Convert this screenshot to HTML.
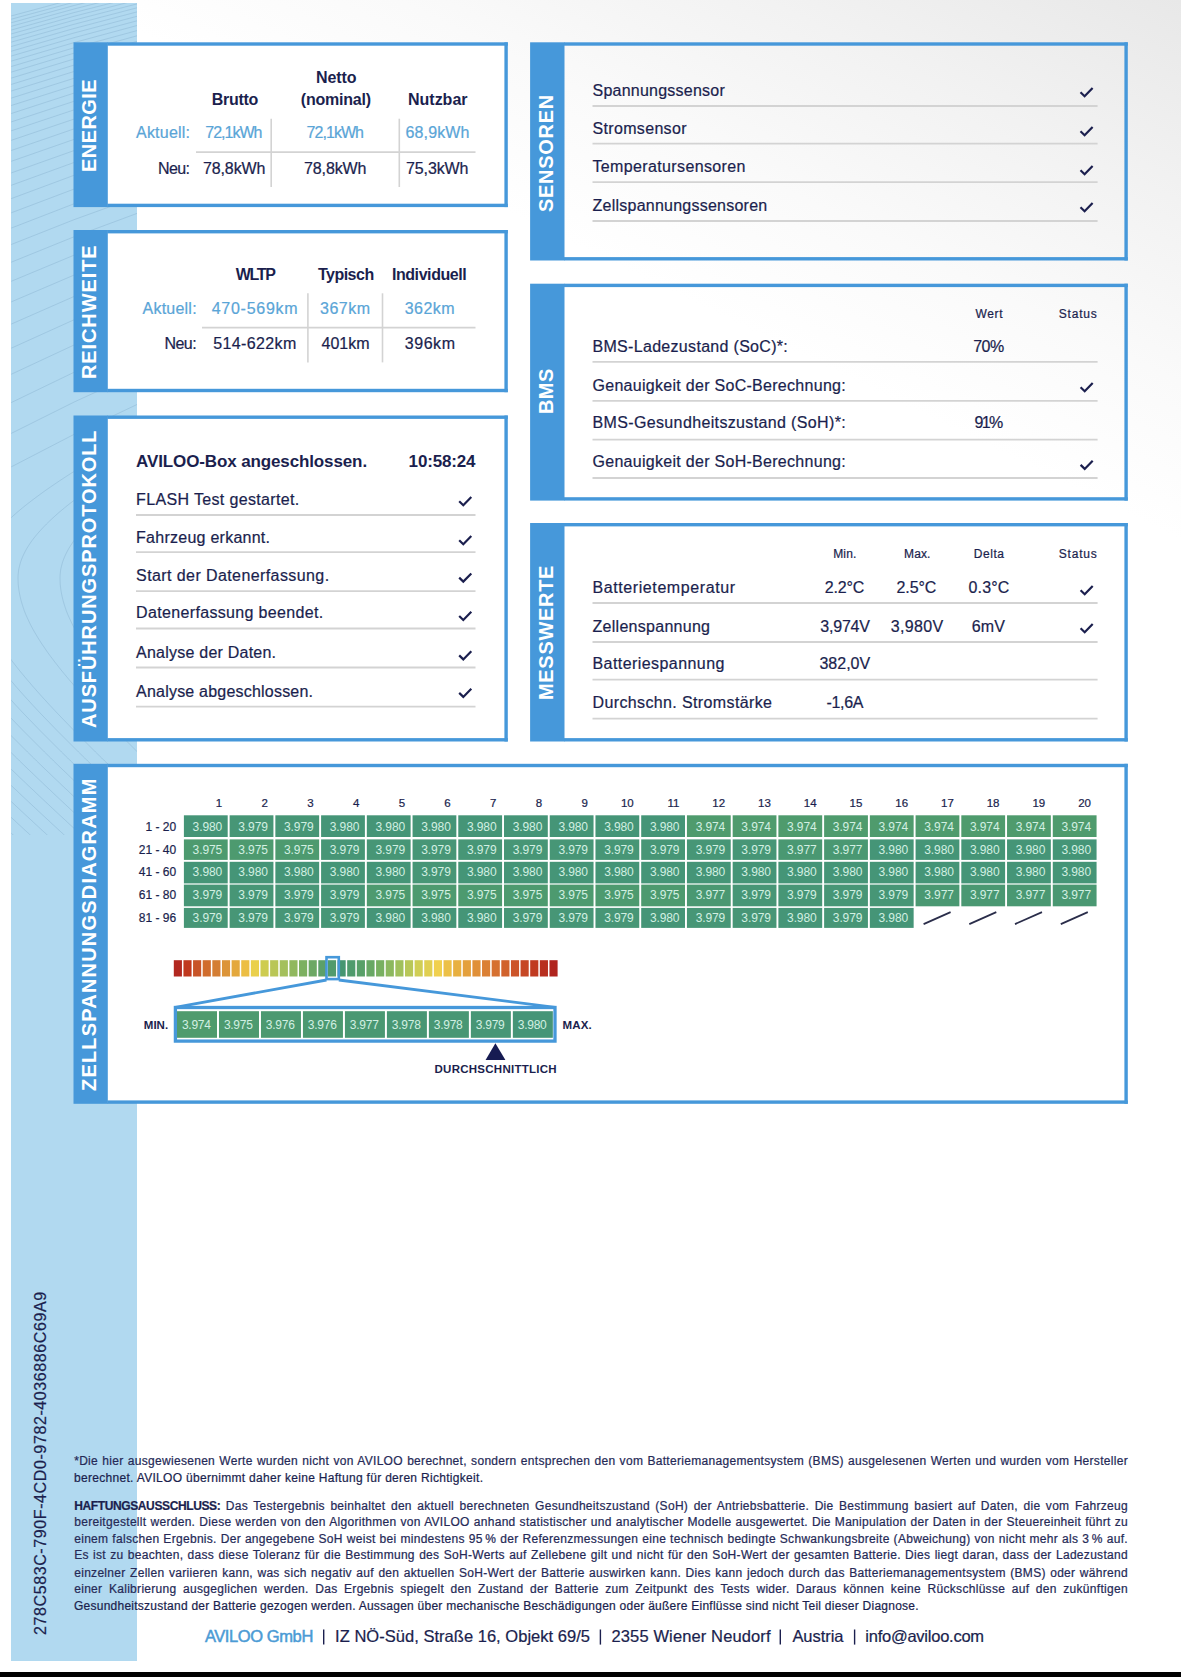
<!DOCTYPE html>
<html lang="de"><head><meta charset="utf-8"><title>AVILOO Batteriezertifikat</title>
<style>
html,body{margin:0;padding:0;}
body{width:1181px;height:1677px;position:relative;overflow:hidden;background:#fff;font-family:"Liberation Sans",sans-serif;color:#1b1f4e;}
#bg{position:absolute;left:0;top:0;width:1181px;height:1677px;background:linear-gradient(206deg,#e8e8e8 0%,#f2f2f2 9%,#fafafa 17%,#ffffff 24%);}
.t{position:absolute;white-space:nowrap;-webkit-text-stroke:0.22px;}
.r{position:absolute;}
.ov{position:absolute;left:0;top:0;}
.j{-webkit-text-stroke:0.22px;color:#262a57;position:absolute;left:74.2px;width:1053.8px;letter-spacing:0.3px;font-size:12px;line-height:12px;height:12px;text-align:justify;text-align-last:justify;white-space:nowrap;overflow:visible;}
</style></head><body>
<div id="bg"></div>
<div class="r" style="left:11.20px;top:3.00px;width:125.80px;height:1657.50px;background:#b1d9f0;"></div>
<svg class="ov" width="1181" height="1677" viewBox="0 0 1181 1677"><defs><clipPath id="bc"><rect x="11.2" y="3" width="125.8" height="832"/></clipPath></defs><path clip-path="url(#bc)" d="M137.4,485.0 L133.0,488.0 L128.7,491.0 L124.6,494.0 L120.5,497.0 L116.5,500.0 L112.6,503.0 L108.8,506.0 L105.1,509.0 L101.5,512.0 L98.1,515.0 L94.8,518.0 L91.6,521.0 L88.5,524.0 L85.6,527.0 L82.8,530.0 L80.1,533.0 L77.6,536.0 L75.2,539.0 L73.0,542.0 L71.0,545.0 L69.1,548.0 L67.4,551.0 L65.9,554.0 L64.5,557.0 L63.3,560.0 L62.3,563.0 L61.5,566.0 L60.8,569.0 L60.4,572.0 L60.1,575.0 L60.0,578.0 L60.1,581.0 L60.2,584.0 L60.5,587.0 L60.9,590.0 L61.4,593.0 L62.0,596.0 L62.7,599.0 L63.5,602.0 L64.4,605.0 L65.4,608.0 L66.4,611.0 L67.6,614.0 L68.9,617.0 L70.3,620.0 L71.7,623.0 L73.2,626.0 L74.8,629.0 L76.5,632.0 L78.3,635.0 L80.1,638.0 L82.0,641.0 L83.9,644.0 L86.0,647.0 L88.0,650.0 L90.1,653.0 L92.3,656.0 L94.6,659.0 L96.8,662.0 L99.2,665.0 L101.5,668.0 L103.9,671.0 L106.4,674.0 L108.9,677.0 L111.4,680.0 L114.0,683.0 L116.5,686.0 L119.2,689.0 L121.8,692.0 L124.5,695.0 L127.2,698.0 L130.0,701.0 L132.7,704.0 L135.5,707.0 L138.3,710.0 M138.0,458.0 L133.0,461.0 L128.0,464.0 L123.2,467.0 L118.4,470.0 L113.6,473.0 L108.9,476.0 L104.3,479.0 L99.8,482.0 L95.4,485.0 L91.0,488.0 L86.7,491.0 L82.6,494.0 L78.5,497.0 L74.5,500.0 L70.6,503.0 L66.8,506.0 L63.1,509.0 L59.5,512.0 L56.1,515.0 L52.8,518.0 L49.6,521.0 L46.5,524.0 L43.6,527.0 L40.8,530.0 L38.1,533.0 L35.6,536.0 L33.2,539.0 L31.0,542.0 L29.0,545.0 L27.1,548.0 L25.4,551.0 L23.9,554.0 L22.5,557.0 L21.3,560.0 L20.3,563.0 L19.5,566.0 L18.8,569.0 L18.4,572.0 L18.1,575.0 L18.0,578.0 L18.1,581.0 L18.2,584.0 L18.5,587.0 L18.9,590.0 L19.4,593.0 L20.0,596.0 L20.7,599.0 L21.5,602.0 L22.4,605.0 L23.4,608.0 L24.4,611.0 L25.6,614.0 L26.9,617.0 L28.3,620.0 L29.7,623.0 L31.2,626.0 L32.8,629.0 L34.5,632.0 L36.3,635.0 L38.1,638.0 L40.0,641.0 L41.9,644.0 L44.0,647.0 L46.0,650.0 L48.1,653.0 L50.3,656.0 L52.6,659.0 L54.8,662.0 L57.2,665.0 L59.5,668.0 L61.9,671.0 L64.4,674.0 L66.9,677.0 L69.4,680.0 L72.0,683.0 L74.5,686.0 L77.2,689.0 L79.8,692.0 L82.5,695.0 L85.2,698.0 L88.0,701.0 L90.7,704.0 L93.5,707.0 L96.3,710.0 L99.1,713.0 L102.0,716.0 L104.9,719.0 L107.8,722.0 L110.7,725.0 L113.6,728.0 L116.5,731.0 L119.5,734.0 L122.5,737.0 L125.5,740.0 L128.5,743.0 L131.5,746.0 L134.5,749.0 L137.5,752.0 M137.8,434.0 L132.4,437.0 L127.1,440.0 L121.8,443.0 L116.5,446.0 L111.3,449.0 L106.1,452.0 L101.0,455.0 L96.0,458.0 L91.0,461.0 L86.0,464.0 L81.2,467.0 L76.4,470.0 L71.6,473.0 L66.9,476.0 L62.3,479.0 L57.8,482.0 L53.4,485.0 L49.0,488.0 L44.7,491.0 L40.6,494.0 L36.5,497.0 L32.5,500.0 L28.6,503.0 L24.8,506.0 L21.1,509.0 L17.5,512.0 L14.1,515.0 L10.8,518.0 M8.3,656.0 L10.6,659.0 L12.8,662.0 L15.2,665.0 L17.5,668.0 L19.9,671.0 L22.4,674.0 L24.9,677.0 L27.4,680.0 L30.0,683.0 L32.5,686.0 L35.2,689.0 L37.8,692.0 L40.5,695.0 L43.2,698.0 L46.0,701.0 L48.7,704.0 L51.5,707.0 L54.3,710.0 L57.1,713.0 L60.0,716.0 L62.9,719.0 L65.8,722.0 L68.7,725.0 L71.6,728.0 L74.5,731.0 L77.5,734.0 L80.5,737.0 L83.5,740.0 L86.5,743.0 L89.5,746.0 L92.5,749.0 L95.5,752.0 L98.6,755.0 L101.7,758.0 L104.7,761.0 L107.8,764.0 L110.9,767.0 L114.0,770.0 L117.2,773.0 L120.3,776.0 L123.4,779.0 L126.6,782.0 L129.7,785.0 L132.9,788.0 L136.1,791.0 L139.2,794.0 M11.0,16.0 L74.0,-1.0 L137.0,-16.7 M11.0,19.3 L74.0,2.2 L137.0,-13.6 M11.0,22.8 L74.0,5.5 L137.0,-10.3 M11.0,26.4 L74.0,9.0 L137.0,-7.0 M11.0,30.1 L74.0,12.6 L137.0,-3.5 M11.0,34.0 L74.0,16.3 L137.0,0.1 M11.0,38.0 L74.0,20.2 L137.0,3.9 M11.0,42.2 L74.0,24.3 L137.0,7.8 M11.0,46.6 L74.0,28.5 L137.0,11.9 M11.0,51.3 L74.0,33.0 L137.0,16.3 M11.0,56.1 L74.0,37.7 L137.0,20.8 M11.0,61.2 L74.0,42.6 L137.0,25.5 M11.0,66.6 L74.0,47.8 L137.0,30.6 M11.0,72.2 L74.0,53.2 L137.0,35.8 M11.0,78.2 L74.0,59.0 L137.0,41.4 M11.0,84.5 L74.0,65.1 L137.0,47.3 M11.0,91.1 L74.0,71.5 L137.0,53.5 M11.0,98.2 L74.0,78.3 L137.0,60.1 M11.0,105.6 L74.0,85.5 L137.0,67.0 M11.0,113.6 L74.0,93.1 L137.0,74.4 M11.0,122.0 L74.0,101.3 L137.0,82.3 M11.0,130.9 L74.0,109.9 L137.0,90.6 M11.0,140.4 L74.0,119.1 L137.0,99.5 M11.0,150.6 L74.0,128.9 L137.0,109.0 M11.0,161.4 L74.0,139.4 L137.0,119.1 M11.0,173.0 L74.0,150.6 L137.0,130.0 M11.0,185.4 L74.0,162.5 L137.0,141.5 M11.0,198.7 L74.0,175.3 L137.0,153.9 M11.0,212.9 L74.0,189.1 L137.0,167.2 M11.0,228.2 L74.0,203.8 L137.0,181.5 M11.0,244.6 L74.0,219.7 L137.0,196.9 M11.0,262.3 L74.0,236.8 L137.0,213.4 M11.0,281.4 L74.0,255.2 L137.0,231.2 M11.0,302.0 L74.0,275.1 L137.0,250.4 M11.0,324.2 L74.0,296.5 L137.0,271.2 M11.0,348.3 L74.0,319.8 L137.0,293.7 M11.0,374.4 L74.0,345.0 L137.0,318.0 M11.0,402.7 L74.0,372.3 L137.0,344.5 M11.0,433.5 L74.0,402.1 L137.0,373.2 M11.0,467.0 L74.0,434.4 L137.0,404.5 M10.4,680.0 L13.0,683.0 L15.5,686.0 L18.2,689.0 L20.8,692.0 L23.5,695.0 L26.2,698.0 L29.0,701.0 L31.7,704.0 L34.5,707.0 L37.3,710.0 L40.1,713.0 L43.0,716.0 L45.9,719.0 L48.8,722.0 L51.7,725.0 L54.6,728.0 L57.5,731.0 L60.5,734.0 L63.5,737.0 L66.5,740.0 L69.5,743.0 L72.5,746.0 L75.5,749.0 L78.5,752.0 L81.6,755.0 L84.7,758.0 L87.7,761.0 L90.8,764.0 L93.9,767.0 L97.0,770.0 L100.2,773.0 L103.3,776.0 L106.4,779.0 L109.6,782.0 L112.7,785.0 L115.9,788.0 L119.1,791.0 L122.2,794.0 L125.4,797.0 L128.6,800.0 L131.8,803.0 L135.0,806.0 L138.2,809.0 M9.2,698.0 L12.0,701.0 L14.7,704.0 L17.5,707.0 L20.3,710.0 L23.1,713.0 L26.0,716.0 L28.9,719.0 L31.8,722.0 L34.7,725.0 L37.6,728.0 L40.5,731.0 L43.5,734.0 L46.5,737.0 L49.5,740.0 L52.5,743.0 L55.5,746.0 L58.5,749.0 L61.5,752.0 L64.6,755.0 L67.7,758.0 L70.7,761.0 L73.8,764.0 L76.9,767.0 L80.0,770.0 L83.2,773.0 L86.3,776.0 L89.4,779.0 L92.6,782.0 L95.7,785.0 L98.9,788.0 L102.1,791.0 L105.2,794.0 L108.4,797.0 L111.6,800.0 L114.8,803.0 L118.0,806.0 L121.2,809.0 L124.4,812.0 L127.6,815.0 L130.9,818.0 L134.1,821.0 L137.3,824.0 M9.0,716.0 L11.9,719.0 L14.8,722.0 L17.7,725.0 L20.6,728.0 L23.5,731.0 L26.5,734.0 L29.5,737.0 L32.5,740.0 L35.5,743.0 L38.5,746.0 L41.5,749.0 L44.5,752.0 L47.6,755.0 L50.7,758.0 L53.7,761.0 L56.8,764.0 L59.9,767.0 L63.0,770.0 L66.2,773.0 L69.3,776.0 L72.4,779.0 L75.6,782.0 L78.7,785.0 L81.9,788.0 L85.1,791.0 L88.2,794.0 L91.4,797.0 L94.6,800.0 L97.8,803.0 L101.0,806.0 L104.2,809.0 L107.4,812.0 L110.6,815.0 L113.9,818.0 L117.1,821.0 L120.3,824.0 L123.6,827.0 L126.8,830.0 L130.1,833.0 L133.3,836.0 L136.6,839.0 L139.9,842.0 M9.5,734.0 L12.5,737.0 L15.5,740.0 L18.5,743.0 L21.5,746.0 L24.5,749.0 L27.5,752.0 L30.6,755.0 L33.7,758.0 L36.7,761.0 L39.8,764.0 L42.9,767.0 L46.0,770.0 L49.2,773.0 L52.3,776.0 L55.4,779.0 L58.6,782.0 L61.7,785.0 L64.9,788.0 L68.1,791.0 L71.2,794.0 L74.4,797.0 L77.6,800.0 L80.8,803.0 L84.0,806.0 L87.2,809.0 L90.4,812.0 L93.6,815.0 L96.9,818.0 L100.1,821.0 L103.3,824.0 L106.6,827.0 L109.8,830.0 L113.1,833.0 L116.3,836.0 L119.6,839.0 L122.9,842.0 M10.5,752.0 L13.6,755.0 L16.7,758.0 L19.7,761.0 L22.8,764.0 L25.9,767.0 L29.0,770.0 L32.2,773.0 L35.3,776.0 L38.4,779.0 L41.6,782.0 L44.7,785.0 L47.9,788.0 L51.1,791.0 L54.2,794.0 L57.4,797.0 L60.6,800.0 L63.8,803.0 L67.0,806.0 L70.2,809.0 L73.4,812.0 L76.6,815.0 L79.9,818.0 L83.1,821.0 L86.3,824.0 L89.6,827.0 L92.8,830.0 L96.1,833.0 L99.3,836.0 L102.6,839.0 L105.9,842.0 M8.9,767.0 L12.0,770.0 L15.2,773.0 L18.3,776.0 L21.4,779.0 L24.6,782.0 L27.7,785.0 L30.9,788.0 L34.1,791.0 L37.2,794.0 L40.4,797.0 L43.6,800.0 L46.8,803.0 L50.0,806.0 L53.2,809.0 L56.4,812.0 L59.6,815.0 L62.9,818.0 L66.1,821.0 L69.3,824.0 L72.6,827.0 L75.8,830.0 L79.1,833.0 L82.3,836.0 L85.6,839.0 L88.9,842.0 M10.7,785.0 L13.9,788.0 L17.1,791.0 L20.2,794.0 L23.4,797.0 L26.6,800.0 L29.8,803.0 L33.0,806.0 L36.2,809.0 L39.4,812.0 L42.6,815.0 L45.9,818.0 L49.1,821.0 L52.3,824.0 L55.6,827.0 L58.8,830.0 L62.1,833.0 L65.3,836.0 L68.6,839.0 L71.9,842.0 M9.6,800.0 L12.8,803.0 L16.0,806.0 L19.2,809.0 L22.4,812.0 L25.6,815.0 L28.9,818.0 L32.1,821.0 L35.3,824.0 L38.6,827.0 L41.8,830.0 L45.1,833.0 L48.3,836.0 L51.6,839.0 L54.9,842.0 M8.6,815.0 L11.9,818.0 L15.1,821.0 L18.3,824.0 L21.6,827.0 L24.8,830.0 L28.1,833.0 L31.3,836.0 L34.6,839.0 L37.9,842.0 M11.1,833.0 L14.3,836.0 L17.6,839.0 L20.9,842.0" fill="none" stroke="#7fa8c8" stroke-opacity="0.36" stroke-width="1"/></svg>
<div class="r" style="left:106.80px;top:43.30px;width:400.00px;height:162.80px;background:#fff;"></div>
<div class="r" style="left:106.80px;top:231.00px;width:400.00px;height:160.20px;background:#fff;"></div>
<div class="r" style="left:106.80px;top:416.50px;width:400.00px;height:324.00px;background:#fff;"></div>
<div class="r" style="left:106.80px;top:764.80px;width:1020.00px;height:338.00px;background:#fff;"></div>
<svg class="ov" width="1181" height="1677" viewBox="0 0 1181 1677" fill="#4698da"><rect x="73.50" y="42.30" width="34.30" height="164.80"/><rect x="107.30" y="42.30" width="400.50" height="3.4"/><rect x="107.30" y="203.70" width="400.50" height="3.4"/><rect x="504.40" y="42.30" width="3.4" height="164.80"/><rect x="73.50" y="230.00" width="34.30" height="162.20"/><rect x="107.30" y="230.00" width="400.50" height="3.4"/><rect x="107.30" y="388.80" width="400.50" height="3.4"/><rect x="504.40" y="230.00" width="3.4" height="162.20"/><rect x="73.50" y="415.50" width="34.30" height="326.00"/><rect x="107.30" y="415.50" width="400.50" height="3.4"/><rect x="107.30" y="738.10" width="400.50" height="3.4"/><rect x="504.40" y="415.50" width="3.4" height="326.00"/><rect x="530.10" y="42.30" width="34.40" height="218.20"/><rect x="564.00" y="42.30" width="563.80" height="3.4"/><rect x="564.00" y="257.10" width="563.80" height="3.4"/><rect x="1124.40" y="42.30" width="3.4" height="218.20"/><rect x="530.10" y="283.70" width="34.40" height="216.90"/><rect x="564.00" y="283.70" width="563.80" height="3.4"/><rect x="564.00" y="497.20" width="563.80" height="3.4"/><rect x="1124.40" y="283.70" width="3.4" height="216.90"/><rect x="530.10" y="523.00" width="34.40" height="218.50"/><rect x="564.00" y="523.00" width="563.80" height="3.4"/><rect x="564.00" y="738.10" width="563.80" height="3.4"/><rect x="1124.40" y="523.00" width="3.4" height="218.50"/><rect x="73.50" y="763.80" width="34.30" height="340.00"/><rect x="107.30" y="763.80" width="1020.50" height="3.4"/><rect x="107.30" y="1100.40" width="1020.50" height="3.4"/><rect x="1124.40" y="763.80" width="3.4" height="340.00"/></svg>
<div class="t" style="left:96.00px;top:171.60px;font-size:20px;line-height:20px;letter-spacing:0.430px;color:#fff;transform-origin:0 0;transform:rotate(-90deg) translate(0,-17.00px);font-weight:bold;-webkit-text-stroke:0;">ENERGIE</div>
<div class="t" style="left:96.10px;top:379.20px;font-size:20px;line-height:20px;letter-spacing:0.893px;color:#fff;transform-origin:0 0;transform:rotate(-90deg) translate(0,-17.00px);font-weight:bold;-webkit-text-stroke:0;">REICHWEITE</div>
<div class="t" style="left:96.00px;top:727.50px;font-size:20px;line-height:20px;letter-spacing:0.882px;color:#fff;transform-origin:0 0;transform:rotate(-90deg) translate(0,-17.00px);font-weight:bold;-webkit-text-stroke:0;">AUSFÜHRUNGSPROTOKOLL</div>
<div class="t" style="left:96.00px;top:1091.30px;font-size:20px;line-height:20px;letter-spacing:1.190px;color:#fff;transform-origin:0 0;transform:rotate(-90deg) translate(0,-17.00px);font-weight:bold;-webkit-text-stroke:0;">ZELLSPANNUNGSDIAGRAMM</div>
<div class="t" style="left:552.50px;top:211.50px;font-size:20px;line-height:20px;letter-spacing:0.709px;color:#fff;transform-origin:0 0;transform:rotate(-90deg) translate(0,-17.00px);font-weight:bold;-webkit-text-stroke:0;">SENSOREN</div>
<div class="t" style="left:552.60px;top:414.40px;font-size:20px;line-height:20px;letter-spacing:0.430px;color:#fff;transform-origin:0 0;transform:rotate(-90deg) translate(0,-17.00px);font-weight:bold;-webkit-text-stroke:0;">BMS</div>
<div class="t" style="left:552.60px;top:700.10px;font-size:20px;line-height:20px;letter-spacing:0.687px;color:#fff;transform-origin:0 0;transform:rotate(-90deg) translate(0,-17.00px);font-weight:bold;-webkit-text-stroke:0;">MESSWERTE</div>
<div class="t" style="left:316.00px;top:70.00px;font-size:16px;line-height:16px;letter-spacing:-0.095px;font-weight:bold;-webkit-text-stroke:0;">Netto</div>
<div class="t" style="left:211.70px;top:92.00px;font-size:16px;line-height:16px;letter-spacing:-0.257px;font-weight:bold;-webkit-text-stroke:0;">Brutto</div>
<div class="t" style="left:300.80px;top:92.00px;font-size:16px;line-height:16px;letter-spacing:-0.225px;font-weight:bold;-webkit-text-stroke:0;">(nominal)</div>
<div class="t" style="left:408.00px;top:92.00px;font-size:16px;line-height:16px;letter-spacing:-0.009px;font-weight:bold;-webkit-text-stroke:0;">Nutzbar</div>
<div class="t" style="left:136.00px;top:125.00px;font-size:16px;line-height:16px;letter-spacing:0.219px;color:#5aa5d7;">Aktuell:</div>
<div class="t" style="left:205.30px;top:125.00px;font-size:16px;line-height:16px;letter-spacing:-0.989px;color:#5aa5d7;">72,1kWh</div>
<div class="t" style="left:306.50px;top:125.00px;font-size:16px;line-height:16px;letter-spacing:-0.939px;color:#5aa5d7;">72,1kWh</div>
<div class="t" style="left:405.50px;top:125.00px;font-size:16px;line-height:16px;letter-spacing:0.144px;color:#5aa5d7;">68,9kWh</div>
<div class="t" style="left:158.00px;top:161.00px;font-size:16px;line-height:16px;letter-spacing:-0.597px;">Neu:</div>
<div class="t" style="left:203.00px;top:161.00px;font-size:16px;line-height:16px;letter-spacing:-0.123px;">78,8kWh</div>
<div class="t" style="left:304.00px;top:161.00px;font-size:16px;line-height:16px;letter-spacing:-0.106px;">78,8kWh</div>
<div class="t" style="left:406.00px;top:161.00px;font-size:16px;line-height:16px;letter-spacing:-0.106px;">75,3kWh</div>
<div class="t" style="left:235.80px;top:267.00px;font-size:16px;line-height:16px;letter-spacing:-1.309px;font-weight:bold;-webkit-text-stroke:0;">WLTP</div>
<div class="t" style="left:317.90px;top:267.00px;font-size:16px;line-height:16px;letter-spacing:-0.497px;font-weight:bold;-webkit-text-stroke:0;">Typisch</div>
<div class="t" style="left:391.90px;top:267.00px;font-size:16px;line-height:16px;letter-spacing:-0.422px;font-weight:bold;-webkit-text-stroke:0;">Individuell</div>
<div class="t" style="left:142.50px;top:301.00px;font-size:16px;line-height:16px;letter-spacing:0.234px;color:#5aa5d7;">Aktuell:</div>
<div class="t" style="left:211.70px;top:301.00px;font-size:16px;line-height:16px;letter-spacing:0.732px;color:#5aa5d7;">470-569km</div>
<div class="t" style="left:320.00px;top:301.00px;font-size:16px;line-height:16px;letter-spacing:0.496px;color:#5aa5d7;">367km</div>
<div class="t" style="left:404.70px;top:301.00px;font-size:16px;line-height:16px;letter-spacing:0.471px;color:#5aa5d7;">362km</div>
<div class="t" style="left:164.40px;top:336.00px;font-size:16px;line-height:16px;letter-spacing:-0.531px;">Neu:</div>
<div class="t" style="left:213.30px;top:336.00px;font-size:16px;line-height:16px;letter-spacing:0.369px;">514-622km</div>
<div class="t" style="left:321.50px;top:336.00px;font-size:16px;line-height:16px;">401km</div>
<div class="t" style="left:404.70px;top:336.00px;font-size:16px;line-height:16px;letter-spacing:0.571px;">396km</div>
<div class="t" style="left:136.10px;top:453.00px;font-size:17px;line-height:17px;letter-spacing:-0.123px;font-weight:bold;-webkit-text-stroke:0;">AVILOO-Box angeschlossen.</div>
<div class="t" style="left:408.60px;top:453.00px;font-size:17px;line-height:17px;letter-spacing:-0.164px;font-weight:bold;-webkit-text-stroke:0;">10:58:24</div>
<div class="t" style="left:136.10px;top:492.00px;font-size:16px;line-height:16px;letter-spacing:0.344px;">FLASH Test gestartet.</div>
<div class="t" style="left:136.10px;top:530.00px;font-size:16px;line-height:16px;letter-spacing:0.253px;">Fahrzeug erkannt.</div>
<div class="t" style="left:136.10px;top:568.00px;font-size:16px;line-height:16px;letter-spacing:0.408px;">Start der Datenerfassung.</div>
<div class="t" style="left:136.10px;top:605.00px;font-size:16px;line-height:16px;letter-spacing:0.341px;">Datenerfassung beendet.</div>
<div class="t" style="left:136.10px;top:645.00px;font-size:16px;line-height:16px;letter-spacing:0.225px;">Analyse der Daten.</div>
<div class="t" style="left:136.10px;top:684.00px;font-size:16px;line-height:16px;letter-spacing:0.207px;">Analyse abgeschlossen.</div>
<div class="t" style="left:592.50px;top:83.00px;font-size:16px;line-height:16px;letter-spacing:0.236px;">Spannungssensor</div>
<div class="t" style="left:592.50px;top:121.00px;font-size:16px;line-height:16px;letter-spacing:0.330px;">Stromsensor</div>
<div class="t" style="left:592.50px;top:159.00px;font-size:16px;line-height:16px;letter-spacing:0.363px;">Temperatursensoren</div>
<div class="t" style="left:592.50px;top:198.00px;font-size:16px;line-height:16px;letter-spacing:0.241px;">Zellspannungssensoren</div>
<div class="t" style="left:975.40px;top:308.00px;font-size:12px;line-height:12px;letter-spacing:0.661px;">Wert</div>
<div class="t" style="left:1058.70px;top:308.00px;font-size:12px;line-height:12px;letter-spacing:0.816px;">Status</div>
<div class="t" style="left:592.50px;top:339.00px;font-size:16px;line-height:16px;letter-spacing:0.308px;">BMS-Ladezustand (SoC)*:</div>
<div class="t" style="left:973.20px;top:339.00px;font-size:16px;line-height:16px;letter-spacing:-0.508px;">70%</div>
<div class="t" style="left:592.50px;top:378.00px;font-size:16px;line-height:16px;letter-spacing:0.287px;">Genauigkeit der SoC-Berechnung:</div>
<div class="t" style="left:592.50px;top:415.00px;font-size:16px;line-height:16px;letter-spacing:0.360px;">BMS-Gesundheitszustand (SoH)*:</div>
<div class="t" style="left:974.40px;top:415.00px;font-size:16px;line-height:16px;letter-spacing:-1.608px;">91%</div>
<div class="t" style="left:592.50px;top:454.00px;font-size:16px;line-height:16px;letter-spacing:0.287px;">Genauigkeit der SoH-Berechnung:</div>
<div class="t" style="left:833.20px;top:548.00px;font-size:12px;line-height:12px;letter-spacing:0.177px;">Min.</div>
<div class="t" style="left:904.00px;top:548.00px;font-size:12px;line-height:12px;letter-spacing:0.132px;">Max.</div>
<div class="t" style="left:973.70px;top:548.00px;font-size:12px;line-height:12px;letter-spacing:0.570px;">Delta</div>
<div class="t" style="left:1058.70px;top:548.00px;font-size:12px;line-height:12px;letter-spacing:0.816px;">Status</div>
<div class="t" style="left:592.50px;top:580.00px;font-size:16px;line-height:16px;letter-spacing:0.588px;">Batterietemperatur</div>
<div class="t" style="left:824.80px;top:580.00px;font-size:16px;line-height:16px;letter-spacing:-0.148px;">2.2°C</div>
<div class="t" style="left:896.60px;top:580.00px;font-size:16px;line-height:16px;letter-spacing:-0.148px;">2.5°C</div>
<div class="t" style="left:968.60px;top:580.00px;font-size:16px;line-height:16px;letter-spacing:0.127px;">0.3°C</div>
<div class="t" style="left:592.50px;top:619.00px;font-size:16px;line-height:16px;letter-spacing:0.279px;">Zellenspannung</div>
<div class="t" style="left:820.30px;top:619.00px;font-size:16px;line-height:16px;letter-spacing:-0.221px;">3,974V</div>
<div class="t" style="left:890.80px;top:619.00px;font-size:16px;line-height:16px;letter-spacing:0.339px;">3,980V</div>
<div class="t" style="left:971.80px;top:619.00px;font-size:16px;line-height:16px;letter-spacing:0.152px;">6mV</div>
<div class="t" style="left:592.50px;top:656.00px;font-size:16px;line-height:16px;letter-spacing:0.432px;">Batteriespannung</div>
<div class="t" style="left:819.40px;top:656.00px;font-size:16px;line-height:16px;letter-spacing:0.019px;">382,0V</div>
<div class="t" style="left:592.50px;top:695.00px;font-size:16px;line-height:16px;letter-spacing:0.375px;">Durchschn. Stromstärke</div>
<div class="t" style="left:826.40px;top:695.00px;font-size:16px;line-height:16px;letter-spacing:-0.310px;">-1,6A</div>
<svg class="ov" width="1181" height="1677" viewBox="0 0 1181 1677"><rect x="183.90" y="815.30" width="43.8" height="21.70" fill="#459577"/><rect x="229.63" y="815.30" width="43.8" height="21.70" fill="#479676"/><rect x="275.36" y="815.30" width="43.8" height="21.70" fill="#479676"/><rect x="321.09" y="815.30" width="43.8" height="21.70" fill="#459577"/><rect x="366.82" y="815.30" width="43.8" height="21.70" fill="#459577"/><rect x="412.55" y="815.30" width="43.8" height="21.70" fill="#459577"/><rect x="458.28" y="815.30" width="43.8" height="21.70" fill="#459577"/><rect x="504.01" y="815.30" width="43.8" height="21.70" fill="#459577"/><rect x="549.74" y="815.30" width="43.8" height="21.70" fill="#459577"/><rect x="595.47" y="815.30" width="43.8" height="21.70" fill="#459577"/><rect x="641.20" y="815.30" width="43.8" height="21.70" fill="#459577"/><rect x="686.93" y="815.30" width="43.8" height="21.70" fill="#4f9b6d"/><rect x="732.66" y="815.30" width="43.8" height="21.70" fill="#4f9b6d"/><rect x="778.39" y="815.30" width="43.8" height="21.70" fill="#4f9b6d"/><rect x="824.12" y="815.30" width="43.8" height="21.70" fill="#4f9b6d"/><rect x="869.85" y="815.30" width="43.8" height="21.70" fill="#4f9b6d"/><rect x="915.58" y="815.30" width="43.8" height="21.70" fill="#4f9b6d"/><rect x="961.31" y="815.30" width="43.8" height="21.70" fill="#4f9b6d"/><rect x="1007.04" y="815.30" width="43.8" height="21.70" fill="#4f9b6d"/><rect x="1052.77" y="815.30" width="43.8" height="21.70" fill="#4f9b6d"/><rect x="183.90" y="839.40" width="43.8" height="20.50" fill="#4d9a6f"/><rect x="229.63" y="839.40" width="43.8" height="20.50" fill="#4d9a6f"/><rect x="275.36" y="839.40" width="43.8" height="20.50" fill="#4d9a6f"/><rect x="321.09" y="839.40" width="43.8" height="20.50" fill="#479676"/><rect x="366.82" y="839.40" width="43.8" height="20.50" fill="#479676"/><rect x="412.55" y="839.40" width="43.8" height="20.50" fill="#479676"/><rect x="458.28" y="839.40" width="43.8" height="20.50" fill="#479676"/><rect x="504.01" y="839.40" width="43.8" height="20.50" fill="#479676"/><rect x="549.74" y="839.40" width="43.8" height="20.50" fill="#479676"/><rect x="595.47" y="839.40" width="43.8" height="20.50" fill="#479676"/><rect x="641.20" y="839.40" width="43.8" height="20.50" fill="#479676"/><rect x="686.93" y="839.40" width="43.8" height="20.50" fill="#479676"/><rect x="732.66" y="839.40" width="43.8" height="20.50" fill="#479676"/><rect x="778.39" y="839.40" width="43.8" height="20.50" fill="#4a9872"/><rect x="824.12" y="839.40" width="43.8" height="20.50" fill="#4a9872"/><rect x="869.85" y="839.40" width="43.8" height="20.50" fill="#459577"/><rect x="915.58" y="839.40" width="43.8" height="20.50" fill="#459577"/><rect x="961.31" y="839.40" width="43.8" height="20.50" fill="#459577"/><rect x="1007.04" y="839.40" width="43.8" height="20.50" fill="#459577"/><rect x="1052.77" y="839.40" width="43.8" height="20.50" fill="#459577"/><rect x="183.90" y="861.80" width="43.8" height="21.60" fill="#459577"/><rect x="229.63" y="861.80" width="43.8" height="21.60" fill="#459577"/><rect x="275.36" y="861.80" width="43.8" height="21.60" fill="#459577"/><rect x="321.09" y="861.80" width="43.8" height="21.60" fill="#459577"/><rect x="366.82" y="861.80" width="43.8" height="21.60" fill="#459577"/><rect x="412.55" y="861.80" width="43.8" height="21.60" fill="#479676"/><rect x="458.28" y="861.80" width="43.8" height="21.60" fill="#459577"/><rect x="504.01" y="861.80" width="43.8" height="21.60" fill="#459577"/><rect x="549.74" y="861.80" width="43.8" height="21.60" fill="#459577"/><rect x="595.47" y="861.80" width="43.8" height="21.60" fill="#459577"/><rect x="641.20" y="861.80" width="43.8" height="21.60" fill="#459577"/><rect x="686.93" y="861.80" width="43.8" height="21.60" fill="#459577"/><rect x="732.66" y="861.80" width="43.8" height="21.60" fill="#459577"/><rect x="778.39" y="861.80" width="43.8" height="21.60" fill="#459577"/><rect x="824.12" y="861.80" width="43.8" height="21.60" fill="#459577"/><rect x="869.85" y="861.80" width="43.8" height="21.60" fill="#459577"/><rect x="915.58" y="861.80" width="43.8" height="21.60" fill="#459577"/><rect x="961.31" y="861.80" width="43.8" height="21.60" fill="#459577"/><rect x="1007.04" y="861.80" width="43.8" height="21.60" fill="#459577"/><rect x="1052.77" y="861.80" width="43.8" height="21.60" fill="#459577"/><rect x="183.90" y="884.60" width="43.8" height="21.70" fill="#479676"/><rect x="229.63" y="884.60" width="43.8" height="21.70" fill="#479676"/><rect x="275.36" y="884.60" width="43.8" height="21.70" fill="#479676"/><rect x="321.09" y="884.60" width="43.8" height="21.70" fill="#479676"/><rect x="366.82" y="884.60" width="43.8" height="21.70" fill="#4d9a6f"/><rect x="412.55" y="884.60" width="43.8" height="21.70" fill="#4d9a6f"/><rect x="458.28" y="884.60" width="43.8" height="21.70" fill="#4d9a6f"/><rect x="504.01" y="884.60" width="43.8" height="21.70" fill="#4d9a6f"/><rect x="549.74" y="884.60" width="43.8" height="21.70" fill="#4d9a6f"/><rect x="595.47" y="884.60" width="43.8" height="21.70" fill="#4d9a6f"/><rect x="641.20" y="884.60" width="43.8" height="21.70" fill="#4d9a6f"/><rect x="686.93" y="884.60" width="43.8" height="21.70" fill="#4a9872"/><rect x="732.66" y="884.60" width="43.8" height="21.70" fill="#479676"/><rect x="778.39" y="884.60" width="43.8" height="21.70" fill="#479676"/><rect x="824.12" y="884.60" width="43.8" height="21.70" fill="#479676"/><rect x="869.85" y="884.60" width="43.8" height="21.70" fill="#479676"/><rect x="915.58" y="884.60" width="43.8" height="21.70" fill="#4a9872"/><rect x="961.31" y="884.60" width="43.8" height="21.70" fill="#4a9872"/><rect x="1007.04" y="884.60" width="43.8" height="21.70" fill="#4a9872"/><rect x="1052.77" y="884.60" width="43.8" height="21.70" fill="#4a9872"/><rect x="183.90" y="907.90" width="43.8" height="20.00" fill="#479676"/><rect x="229.63" y="907.90" width="43.8" height="20.00" fill="#479676"/><rect x="275.36" y="907.90" width="43.8" height="20.00" fill="#479676"/><rect x="321.09" y="907.90" width="43.8" height="20.00" fill="#479676"/><rect x="366.82" y="907.90" width="43.8" height="20.00" fill="#459577"/><rect x="412.55" y="907.90" width="43.8" height="20.00" fill="#459577"/><rect x="458.28" y="907.90" width="43.8" height="20.00" fill="#459577"/><rect x="504.01" y="907.90" width="43.8" height="20.00" fill="#479676"/><rect x="549.74" y="907.90" width="43.8" height="20.00" fill="#479676"/><rect x="595.47" y="907.90" width="43.8" height="20.00" fill="#479676"/><rect x="641.20" y="907.90" width="43.8" height="20.00" fill="#459577"/><rect x="686.93" y="907.90" width="43.8" height="20.00" fill="#479676"/><rect x="732.66" y="907.90" width="43.8" height="20.00" fill="#479676"/><rect x="778.39" y="907.90" width="43.8" height="20.00" fill="#459577"/><rect x="824.12" y="907.90" width="43.8" height="20.00" fill="#479676"/><rect x="869.85" y="907.90" width="43.8" height="20.00" fill="#459577"/><rect x="173.80" y="960.2" width="8.13" height="16.3" fill="#b22820"/><rect x="183.43" y="960.2" width="8.13" height="16.3" fill="#c0381e"/><rect x="193.06" y="960.2" width="8.13" height="16.3" fill="#c85428"/><rect x="202.70" y="960.2" width="8.13" height="16.3" fill="#d06c2c"/><rect x="212.33" y="960.2" width="8.13" height="16.3" fill="#d47e34"/><rect x="221.96" y="960.2" width="8.13" height="16.3" fill="#dc9438"/><rect x="231.60" y="960.2" width="8.13" height="16.3" fill="#e4a83c"/><rect x="241.23" y="960.2" width="8.13" height="16.3" fill="#ecbe44"/><rect x="250.86" y="960.2" width="8.13" height="16.3" fill="#ead04c"/><rect x="260.49" y="960.2" width="8.13" height="16.3" fill="#cecc50"/><rect x="270.12" y="960.2" width="8.13" height="16.3" fill="#b9c656"/><rect x="279.76" y="960.2" width="8.13" height="16.3" fill="#a4c05c"/><rect x="289.39" y="960.2" width="8.13" height="16.3" fill="#90b85e"/><rect x="299.02" y="960.2" width="8.13" height="16.3" fill="#7cb060"/><rect x="308.66" y="960.2" width="8.13" height="16.3" fill="#6ca864"/><rect x="318.29" y="960.2" width="8.13" height="16.3" fill="#5ca068"/><rect x="327.92" y="960.2" width="8.13" height="16.3" fill="#519b6c"/><rect x="337.55" y="960.2" width="8.13" height="16.3" fill="#469670"/><rect x="347.19" y="960.2" width="8.13" height="16.3" fill="#4f9b6c"/><rect x="356.82" y="960.2" width="8.13" height="16.3" fill="#58a068"/><rect x="366.45" y="960.2" width="8.13" height="16.3" fill="#68a864"/><rect x="376.08" y="960.2" width="8.13" height="16.3" fill="#78b060"/><rect x="385.72" y="960.2" width="8.13" height="16.3" fill="#8cb85e"/><rect x="395.35" y="960.2" width="8.13" height="16.3" fill="#a0c05c"/><rect x="404.98" y="960.2" width="8.13" height="16.3" fill="#b8c758"/><rect x="414.61" y="960.2" width="8.13" height="16.3" fill="#d0ce54"/><rect x="424.25" y="960.2" width="8.13" height="16.3" fill="#e0cf51"/><rect x="433.88" y="960.2" width="8.13" height="16.3" fill="#f0d04e"/><rect x="443.51" y="960.2" width="8.13" height="16.3" fill="#ecc047"/><rect x="453.14" y="960.2" width="8.13" height="16.3" fill="#e8b040"/><rect x="462.78" y="960.2" width="8.13" height="16.3" fill="#e4a03c"/><rect x="472.41" y="960.2" width="8.13" height="16.3" fill="#e09038"/><rect x="482.04" y="960.2" width="8.13" height="16.3" fill="#db8034"/><rect x="491.67" y="960.2" width="8.13" height="16.3" fill="#d67030"/><rect x="501.31" y="960.2" width="8.13" height="16.3" fill="#d1622c"/><rect x="510.94" y="960.2" width="8.13" height="16.3" fill="#cc5428"/><rect x="520.57" y="960.2" width="8.13" height="16.3" fill="#c64724"/><rect x="530.20" y="960.2" width="8.13" height="16.3" fill="#c03a20"/><rect x="539.84" y="960.2" width="8.13" height="16.3" fill="#b82f1f"/><rect x="549.47" y="960.2" width="8.13" height="16.3" fill="#b0241e"/></svg>
<div class="t" style="left:215.71px;top:798.00px;font-size:11.5px;line-height:11.5px;">1</div>
<div class="t" style="left:261.44px;top:798.00px;font-size:11.5px;line-height:11.5px;">2</div>
<div class="t" style="left:307.17px;top:798.00px;font-size:11.5px;line-height:11.5px;">3</div>
<div class="t" style="left:352.90px;top:798.00px;font-size:11.5px;line-height:11.5px;">4</div>
<div class="t" style="left:398.63px;top:798.00px;font-size:11.5px;line-height:11.5px;">5</div>
<div class="t" style="left:444.36px;top:798.00px;font-size:11.5px;line-height:11.5px;">6</div>
<div class="t" style="left:490.09px;top:798.00px;font-size:11.5px;line-height:11.5px;">7</div>
<div class="t" style="left:535.82px;top:798.00px;font-size:11.5px;line-height:11.5px;">8</div>
<div class="t" style="left:581.55px;top:798.00px;font-size:11.5px;line-height:11.5px;">9</div>
<div class="t" style="left:620.88px;top:798.00px;font-size:11.5px;line-height:11.5px;">10</div>
<div class="t" style="left:667.46px;top:798.00px;font-size:11.5px;line-height:11.5px;">11</div>
<div class="t" style="left:712.34px;top:798.00px;font-size:11.5px;line-height:11.5px;">12</div>
<div class="t" style="left:758.07px;top:798.00px;font-size:11.5px;line-height:11.5px;">13</div>
<div class="t" style="left:803.80px;top:798.00px;font-size:11.5px;line-height:11.5px;">14</div>
<div class="t" style="left:849.53px;top:798.00px;font-size:11.5px;line-height:11.5px;">15</div>
<div class="t" style="left:895.26px;top:798.00px;font-size:11.5px;line-height:11.5px;">16</div>
<div class="t" style="left:940.99px;top:798.00px;font-size:11.5px;line-height:11.5px;">17</div>
<div class="t" style="left:986.72px;top:798.00px;font-size:11.5px;line-height:11.5px;">18</div>
<div class="t" style="left:1032.45px;top:798.00px;font-size:11.5px;line-height:11.5px;">19</div>
<div class="t" style="left:1078.18px;top:798.00px;font-size:11.5px;line-height:11.5px;">20</div>
<div class="t" style="left:145.42px;top:821.00px;font-size:12px;line-height:12px;">1 - 20</div>
<div class="t" style="left:192.60px;top:821.00px;font-size:12px;line-height:12px;letter-spacing:-0.106px;color:#d2f0e2;-webkit-text-stroke:0;">3.980</div>
<div class="t" style="left:238.33px;top:821.00px;font-size:12px;line-height:12px;letter-spacing:-0.106px;color:#d2f0e2;-webkit-text-stroke:0;">3.979</div>
<div class="t" style="left:284.06px;top:821.00px;font-size:12px;line-height:12px;letter-spacing:-0.106px;color:#d2f0e2;-webkit-text-stroke:0;">3.979</div>
<div class="t" style="left:329.79px;top:821.00px;font-size:12px;line-height:12px;letter-spacing:-0.106px;color:#d2f0e2;-webkit-text-stroke:0;">3.980</div>
<div class="t" style="left:375.52px;top:821.00px;font-size:12px;line-height:12px;letter-spacing:-0.106px;color:#d2f0e2;-webkit-text-stroke:0;">3.980</div>
<div class="t" style="left:421.25px;top:821.00px;font-size:12px;line-height:12px;letter-spacing:-0.106px;color:#d2f0e2;-webkit-text-stroke:0;">3.980</div>
<div class="t" style="left:466.98px;top:821.00px;font-size:12px;line-height:12px;letter-spacing:-0.106px;color:#d2f0e2;-webkit-text-stroke:0;">3.980</div>
<div class="t" style="left:512.71px;top:821.00px;font-size:12px;line-height:12px;letter-spacing:-0.106px;color:#d2f0e2;-webkit-text-stroke:0;">3.980</div>
<div class="t" style="left:558.44px;top:821.00px;font-size:12px;line-height:12px;letter-spacing:-0.106px;color:#d2f0e2;-webkit-text-stroke:0;">3.980</div>
<div class="t" style="left:604.17px;top:821.00px;font-size:12px;line-height:12px;letter-spacing:-0.106px;color:#d2f0e2;-webkit-text-stroke:0;">3.980</div>
<div class="t" style="left:649.90px;top:821.00px;font-size:12px;line-height:12px;letter-spacing:-0.106px;color:#d2f0e2;-webkit-text-stroke:0;">3.980</div>
<div class="t" style="left:695.63px;top:821.00px;font-size:12px;line-height:12px;letter-spacing:-0.106px;color:#d2f0e2;-webkit-text-stroke:0;">3.974</div>
<div class="t" style="left:741.36px;top:821.00px;font-size:12px;line-height:12px;letter-spacing:-0.106px;color:#d2f0e2;-webkit-text-stroke:0;">3.974</div>
<div class="t" style="left:787.09px;top:821.00px;font-size:12px;line-height:12px;letter-spacing:-0.106px;color:#d2f0e2;-webkit-text-stroke:0;">3.974</div>
<div class="t" style="left:832.82px;top:821.00px;font-size:12px;line-height:12px;letter-spacing:-0.106px;color:#d2f0e2;-webkit-text-stroke:0;">3.974</div>
<div class="t" style="left:878.55px;top:821.00px;font-size:12px;line-height:12px;letter-spacing:-0.106px;color:#d2f0e2;-webkit-text-stroke:0;">3.974</div>
<div class="t" style="left:924.28px;top:821.00px;font-size:12px;line-height:12px;letter-spacing:-0.106px;color:#d2f0e2;-webkit-text-stroke:0;">3.974</div>
<div class="t" style="left:970.01px;top:821.00px;font-size:12px;line-height:12px;letter-spacing:-0.106px;color:#d2f0e2;-webkit-text-stroke:0;">3.974</div>
<div class="t" style="left:1015.74px;top:821.00px;font-size:12px;line-height:12px;letter-spacing:-0.106px;color:#d2f0e2;-webkit-text-stroke:0;">3.974</div>
<div class="t" style="left:1061.47px;top:821.00px;font-size:12px;line-height:12px;letter-spacing:-0.106px;color:#d2f0e2;-webkit-text-stroke:0;">3.974</div>
<div class="t" style="left:138.74px;top:844.00px;font-size:12px;line-height:12px;">21 - 40</div>
<div class="t" style="left:192.60px;top:844.00px;font-size:12px;line-height:12px;letter-spacing:-0.106px;color:#d2f0e2;-webkit-text-stroke:0;">3.975</div>
<div class="t" style="left:238.33px;top:844.00px;font-size:12px;line-height:12px;letter-spacing:-0.106px;color:#d2f0e2;-webkit-text-stroke:0;">3.975</div>
<div class="t" style="left:284.06px;top:844.00px;font-size:12px;line-height:12px;letter-spacing:-0.106px;color:#d2f0e2;-webkit-text-stroke:0;">3.975</div>
<div class="t" style="left:329.79px;top:844.00px;font-size:12px;line-height:12px;letter-spacing:-0.106px;color:#d2f0e2;-webkit-text-stroke:0;">3.979</div>
<div class="t" style="left:375.52px;top:844.00px;font-size:12px;line-height:12px;letter-spacing:-0.106px;color:#d2f0e2;-webkit-text-stroke:0;">3.979</div>
<div class="t" style="left:421.25px;top:844.00px;font-size:12px;line-height:12px;letter-spacing:-0.106px;color:#d2f0e2;-webkit-text-stroke:0;">3.979</div>
<div class="t" style="left:466.98px;top:844.00px;font-size:12px;line-height:12px;letter-spacing:-0.106px;color:#d2f0e2;-webkit-text-stroke:0;">3.979</div>
<div class="t" style="left:512.71px;top:844.00px;font-size:12px;line-height:12px;letter-spacing:-0.106px;color:#d2f0e2;-webkit-text-stroke:0;">3.979</div>
<div class="t" style="left:558.44px;top:844.00px;font-size:12px;line-height:12px;letter-spacing:-0.106px;color:#d2f0e2;-webkit-text-stroke:0;">3.979</div>
<div class="t" style="left:604.17px;top:844.00px;font-size:12px;line-height:12px;letter-spacing:-0.106px;color:#d2f0e2;-webkit-text-stroke:0;">3.979</div>
<div class="t" style="left:649.90px;top:844.00px;font-size:12px;line-height:12px;letter-spacing:-0.106px;color:#d2f0e2;-webkit-text-stroke:0;">3.979</div>
<div class="t" style="left:695.63px;top:844.00px;font-size:12px;line-height:12px;letter-spacing:-0.106px;color:#d2f0e2;-webkit-text-stroke:0;">3.979</div>
<div class="t" style="left:741.36px;top:844.00px;font-size:12px;line-height:12px;letter-spacing:-0.106px;color:#d2f0e2;-webkit-text-stroke:0;">3.979</div>
<div class="t" style="left:787.09px;top:844.00px;font-size:12px;line-height:12px;letter-spacing:-0.106px;color:#d2f0e2;-webkit-text-stroke:0;">3.977</div>
<div class="t" style="left:832.82px;top:844.00px;font-size:12px;line-height:12px;letter-spacing:-0.106px;color:#d2f0e2;-webkit-text-stroke:0;">3.977</div>
<div class="t" style="left:878.55px;top:844.00px;font-size:12px;line-height:12px;letter-spacing:-0.106px;color:#d2f0e2;-webkit-text-stroke:0;">3.980</div>
<div class="t" style="left:924.28px;top:844.00px;font-size:12px;line-height:12px;letter-spacing:-0.106px;color:#d2f0e2;-webkit-text-stroke:0;">3.980</div>
<div class="t" style="left:970.01px;top:844.00px;font-size:12px;line-height:12px;letter-spacing:-0.106px;color:#d2f0e2;-webkit-text-stroke:0;">3.980</div>
<div class="t" style="left:1015.74px;top:844.00px;font-size:12px;line-height:12px;letter-spacing:-0.106px;color:#d2f0e2;-webkit-text-stroke:0;">3.980</div>
<div class="t" style="left:1061.47px;top:844.00px;font-size:12px;line-height:12px;letter-spacing:-0.106px;color:#d2f0e2;-webkit-text-stroke:0;">3.980</div>
<div class="t" style="left:138.74px;top:866.00px;font-size:12px;line-height:12px;">41 - 60</div>
<div class="t" style="left:192.60px;top:866.00px;font-size:12px;line-height:12px;letter-spacing:-0.106px;color:#d2f0e2;-webkit-text-stroke:0;">3.980</div>
<div class="t" style="left:238.33px;top:866.00px;font-size:12px;line-height:12px;letter-spacing:-0.106px;color:#d2f0e2;-webkit-text-stroke:0;">3.980</div>
<div class="t" style="left:284.06px;top:866.00px;font-size:12px;line-height:12px;letter-spacing:-0.106px;color:#d2f0e2;-webkit-text-stroke:0;">3.980</div>
<div class="t" style="left:329.79px;top:866.00px;font-size:12px;line-height:12px;letter-spacing:-0.106px;color:#d2f0e2;-webkit-text-stroke:0;">3.980</div>
<div class="t" style="left:375.52px;top:866.00px;font-size:12px;line-height:12px;letter-spacing:-0.106px;color:#d2f0e2;-webkit-text-stroke:0;">3.980</div>
<div class="t" style="left:421.25px;top:866.00px;font-size:12px;line-height:12px;letter-spacing:-0.106px;color:#d2f0e2;-webkit-text-stroke:0;">3.979</div>
<div class="t" style="left:466.98px;top:866.00px;font-size:12px;line-height:12px;letter-spacing:-0.106px;color:#d2f0e2;-webkit-text-stroke:0;">3.980</div>
<div class="t" style="left:512.71px;top:866.00px;font-size:12px;line-height:12px;letter-spacing:-0.106px;color:#d2f0e2;-webkit-text-stroke:0;">3.980</div>
<div class="t" style="left:558.44px;top:866.00px;font-size:12px;line-height:12px;letter-spacing:-0.106px;color:#d2f0e2;-webkit-text-stroke:0;">3.980</div>
<div class="t" style="left:604.17px;top:866.00px;font-size:12px;line-height:12px;letter-spacing:-0.106px;color:#d2f0e2;-webkit-text-stroke:0;">3.980</div>
<div class="t" style="left:649.90px;top:866.00px;font-size:12px;line-height:12px;letter-spacing:-0.106px;color:#d2f0e2;-webkit-text-stroke:0;">3.980</div>
<div class="t" style="left:695.63px;top:866.00px;font-size:12px;line-height:12px;letter-spacing:-0.106px;color:#d2f0e2;-webkit-text-stroke:0;">3.980</div>
<div class="t" style="left:741.36px;top:866.00px;font-size:12px;line-height:12px;letter-spacing:-0.106px;color:#d2f0e2;-webkit-text-stroke:0;">3.980</div>
<div class="t" style="left:787.09px;top:866.00px;font-size:12px;line-height:12px;letter-spacing:-0.106px;color:#d2f0e2;-webkit-text-stroke:0;">3.980</div>
<div class="t" style="left:832.82px;top:866.00px;font-size:12px;line-height:12px;letter-spacing:-0.106px;color:#d2f0e2;-webkit-text-stroke:0;">3.980</div>
<div class="t" style="left:878.55px;top:866.00px;font-size:12px;line-height:12px;letter-spacing:-0.106px;color:#d2f0e2;-webkit-text-stroke:0;">3.980</div>
<div class="t" style="left:924.28px;top:866.00px;font-size:12px;line-height:12px;letter-spacing:-0.106px;color:#d2f0e2;-webkit-text-stroke:0;">3.980</div>
<div class="t" style="left:970.01px;top:866.00px;font-size:12px;line-height:12px;letter-spacing:-0.106px;color:#d2f0e2;-webkit-text-stroke:0;">3.980</div>
<div class="t" style="left:1015.74px;top:866.00px;font-size:12px;line-height:12px;letter-spacing:-0.106px;color:#d2f0e2;-webkit-text-stroke:0;">3.980</div>
<div class="t" style="left:1061.47px;top:866.00px;font-size:12px;line-height:12px;letter-spacing:-0.106px;color:#d2f0e2;-webkit-text-stroke:0;">3.980</div>
<div class="t" style="left:138.74px;top:889.00px;font-size:12px;line-height:12px;">61 - 80</div>
<div class="t" style="left:192.60px;top:889.00px;font-size:12px;line-height:12px;letter-spacing:-0.106px;color:#d2f0e2;-webkit-text-stroke:0;">3.979</div>
<div class="t" style="left:238.33px;top:889.00px;font-size:12px;line-height:12px;letter-spacing:-0.106px;color:#d2f0e2;-webkit-text-stroke:0;">3.979</div>
<div class="t" style="left:284.06px;top:889.00px;font-size:12px;line-height:12px;letter-spacing:-0.106px;color:#d2f0e2;-webkit-text-stroke:0;">3.979</div>
<div class="t" style="left:329.79px;top:889.00px;font-size:12px;line-height:12px;letter-spacing:-0.106px;color:#d2f0e2;-webkit-text-stroke:0;">3.979</div>
<div class="t" style="left:375.52px;top:889.00px;font-size:12px;line-height:12px;letter-spacing:-0.106px;color:#d2f0e2;-webkit-text-stroke:0;">3.975</div>
<div class="t" style="left:421.25px;top:889.00px;font-size:12px;line-height:12px;letter-spacing:-0.106px;color:#d2f0e2;-webkit-text-stroke:0;">3.975</div>
<div class="t" style="left:466.98px;top:889.00px;font-size:12px;line-height:12px;letter-spacing:-0.106px;color:#d2f0e2;-webkit-text-stroke:0;">3.975</div>
<div class="t" style="left:512.71px;top:889.00px;font-size:12px;line-height:12px;letter-spacing:-0.106px;color:#d2f0e2;-webkit-text-stroke:0;">3.975</div>
<div class="t" style="left:558.44px;top:889.00px;font-size:12px;line-height:12px;letter-spacing:-0.106px;color:#d2f0e2;-webkit-text-stroke:0;">3.975</div>
<div class="t" style="left:604.17px;top:889.00px;font-size:12px;line-height:12px;letter-spacing:-0.106px;color:#d2f0e2;-webkit-text-stroke:0;">3.975</div>
<div class="t" style="left:649.90px;top:889.00px;font-size:12px;line-height:12px;letter-spacing:-0.106px;color:#d2f0e2;-webkit-text-stroke:0;">3.975</div>
<div class="t" style="left:695.63px;top:889.00px;font-size:12px;line-height:12px;letter-spacing:-0.106px;color:#d2f0e2;-webkit-text-stroke:0;">3.977</div>
<div class="t" style="left:741.36px;top:889.00px;font-size:12px;line-height:12px;letter-spacing:-0.106px;color:#d2f0e2;-webkit-text-stroke:0;">3.979</div>
<div class="t" style="left:787.09px;top:889.00px;font-size:12px;line-height:12px;letter-spacing:-0.106px;color:#d2f0e2;-webkit-text-stroke:0;">3.979</div>
<div class="t" style="left:832.82px;top:889.00px;font-size:12px;line-height:12px;letter-spacing:-0.106px;color:#d2f0e2;-webkit-text-stroke:0;">3.979</div>
<div class="t" style="left:878.55px;top:889.00px;font-size:12px;line-height:12px;letter-spacing:-0.106px;color:#d2f0e2;-webkit-text-stroke:0;">3.979</div>
<div class="t" style="left:924.28px;top:889.00px;font-size:12px;line-height:12px;letter-spacing:-0.106px;color:#d2f0e2;-webkit-text-stroke:0;">3.977</div>
<div class="t" style="left:970.01px;top:889.00px;font-size:12px;line-height:12px;letter-spacing:-0.106px;color:#d2f0e2;-webkit-text-stroke:0;">3.977</div>
<div class="t" style="left:1015.74px;top:889.00px;font-size:12px;line-height:12px;letter-spacing:-0.106px;color:#d2f0e2;-webkit-text-stroke:0;">3.977</div>
<div class="t" style="left:1061.47px;top:889.00px;font-size:12px;line-height:12px;letter-spacing:-0.106px;color:#d2f0e2;-webkit-text-stroke:0;">3.977</div>
<div class="t" style="left:138.74px;top:912.00px;font-size:12px;line-height:12px;">81 - 96</div>
<div class="t" style="left:192.60px;top:912.00px;font-size:12px;line-height:12px;letter-spacing:-0.106px;color:#d2f0e2;-webkit-text-stroke:0;">3.979</div>
<div class="t" style="left:238.33px;top:912.00px;font-size:12px;line-height:12px;letter-spacing:-0.106px;color:#d2f0e2;-webkit-text-stroke:0;">3.979</div>
<div class="t" style="left:284.06px;top:912.00px;font-size:12px;line-height:12px;letter-spacing:-0.106px;color:#d2f0e2;-webkit-text-stroke:0;">3.979</div>
<div class="t" style="left:329.79px;top:912.00px;font-size:12px;line-height:12px;letter-spacing:-0.106px;color:#d2f0e2;-webkit-text-stroke:0;">3.979</div>
<div class="t" style="left:375.52px;top:912.00px;font-size:12px;line-height:12px;letter-spacing:-0.106px;color:#d2f0e2;-webkit-text-stroke:0;">3.980</div>
<div class="t" style="left:421.25px;top:912.00px;font-size:12px;line-height:12px;letter-spacing:-0.106px;color:#d2f0e2;-webkit-text-stroke:0;">3.980</div>
<div class="t" style="left:466.98px;top:912.00px;font-size:12px;line-height:12px;letter-spacing:-0.106px;color:#d2f0e2;-webkit-text-stroke:0;">3.980</div>
<div class="t" style="left:512.71px;top:912.00px;font-size:12px;line-height:12px;letter-spacing:-0.106px;color:#d2f0e2;-webkit-text-stroke:0;">3.979</div>
<div class="t" style="left:558.44px;top:912.00px;font-size:12px;line-height:12px;letter-spacing:-0.106px;color:#d2f0e2;-webkit-text-stroke:0;">3.979</div>
<div class="t" style="left:604.17px;top:912.00px;font-size:12px;line-height:12px;letter-spacing:-0.106px;color:#d2f0e2;-webkit-text-stroke:0;">3.979</div>
<div class="t" style="left:649.90px;top:912.00px;font-size:12px;line-height:12px;letter-spacing:-0.106px;color:#d2f0e2;-webkit-text-stroke:0;">3.980</div>
<div class="t" style="left:695.63px;top:912.00px;font-size:12px;line-height:12px;letter-spacing:-0.106px;color:#d2f0e2;-webkit-text-stroke:0;">3.979</div>
<div class="t" style="left:741.36px;top:912.00px;font-size:12px;line-height:12px;letter-spacing:-0.106px;color:#d2f0e2;-webkit-text-stroke:0;">3.979</div>
<div class="t" style="left:787.09px;top:912.00px;font-size:12px;line-height:12px;letter-spacing:-0.106px;color:#d2f0e2;-webkit-text-stroke:0;">3.980</div>
<div class="t" style="left:832.82px;top:912.00px;font-size:12px;line-height:12px;letter-spacing:-0.106px;color:#d2f0e2;-webkit-text-stroke:0;">3.979</div>
<div class="t" style="left:878.55px;top:912.00px;font-size:12px;line-height:12px;letter-spacing:-0.106px;color:#d2f0e2;-webkit-text-stroke:0;">3.980</div>
<svg class="ov" width="1181" height="1677" viewBox="0 0 1181 1677" fill="none" stroke="#1b1f4e" stroke-width="2.2"><path d="M271.20,118.7 L271.20,187.0" stroke="#d3d3d3" stroke-width="1.6"/><path d="M399.30,118.7 L399.30,187.0" stroke="#d3d3d3" stroke-width="1.6"/><path d="M196.0,152.20 L475.5,152.20" stroke="#d3d3d3" stroke-width="1.8"/><path d="M307.90,293.3 L307.90,362.4" stroke="#d3d3d3" stroke-width="1.6"/><path d="M382.50,293.3 L382.50,362.4" stroke="#d3d3d3" stroke-width="1.6"/><path d="M202.0,327.70 L475.5,327.70" stroke="#d3d3d3" stroke-width="1.8"/><path d="M136.0,515.00 L475.5,515.00" stroke="#d3d3d3" stroke-width="1.8"/><path d="M459.2,501.3 L463.3,505.3 L471.3,497.1"/><path d="M136.0,552.20 L475.5,552.20" stroke="#d3d3d3" stroke-width="1.8"/><path d="M459.2,540.3 L463.3,544.3 L471.3,536.1"/><path d="M136.0,591.10 L475.5,591.10" stroke="#d3d3d3" stroke-width="1.8"/><path d="M459.2,577.6 L463.3,581.6 L471.3,573.4"/><path d="M136.0,628.50 L475.5,628.50" stroke="#d3d3d3" stroke-width="1.8"/><path d="M459.2,616.0 L463.3,620.0 L471.3,611.8"/><path d="M136.0,667.50 L475.5,667.50" stroke="#d3d3d3" stroke-width="1.8"/><path d="M459.2,655.4 L463.3,659.4 L471.3,651.2"/><path d="M136.0,706.70 L475.5,706.70" stroke="#d3d3d3" stroke-width="1.8"/><path d="M459.2,692.9 L463.3,696.9 L471.3,688.7"/><path d="M592.5,106.00 L1097.6,106.00" stroke="#d3d3d3" stroke-width="1.8"/><path d="M1080.5,92.3 L1084.6,96.3 L1092.6,88.1"/><path d="M592.5,143.60 L1097.6,143.60" stroke="#d3d3d3" stroke-width="1.8"/><path d="M1080.5,131.3 L1084.6,135.3 L1092.6,127.1"/><path d="M592.5,182.20 L1097.6,182.20" stroke="#d3d3d3" stroke-width="1.8"/><path d="M1080.5,170.3 L1084.6,174.3 L1092.6,166.1"/><path d="M592.5,221.00 L1097.6,221.00" stroke="#d3d3d3" stroke-width="1.8"/><path d="M1080.5,207.3 L1084.6,211.3 L1092.6,203.1"/><path d="M592.5,361.90 L1097.6,361.90" stroke="#d3d3d3" stroke-width="1.8"/><path d="M592.5,400.80 L1097.6,400.80" stroke="#d3d3d3" stroke-width="1.8"/><path d="M1080.6,387.3 L1084.7,391.3 L1092.7,383.1"/><path d="M592.5,439.70 L1097.6,439.70" stroke="#d3d3d3" stroke-width="1.8"/><path d="M592.5,478.00 L1097.6,478.00" stroke="#d3d3d3" stroke-width="1.8"/><path d="M1080.6,464.9 L1084.7,468.9 L1092.7,460.7"/><path d="M592.5,603.00 L1097.6,603.00" stroke="#d3d3d3" stroke-width="1.8"/><path d="M1080.6,590.3 L1084.7,594.3 L1092.7,586.1"/><path d="M592.5,642.00 L1097.6,642.00" stroke="#d3d3d3" stroke-width="1.8"/><path d="M1080.6,628.3 L1084.7,632.3 L1092.7,624.1"/><path d="M592.5,679.70 L1097.6,679.70" stroke="#d3d3d3" stroke-width="1.8"/><path d="M592.5,718.60 L1097.6,718.60" stroke="#d3d3d3" stroke-width="1.8"/><path d="M923.6,924.1 L950.6,912.1" stroke-width="1.7" stroke="#2a2d4a"/><path d="M969.3,924.1 L996.3,912.1" stroke-width="1.7" stroke="#2a2d4a"/><path d="M1015.0,924.1 L1042.0,912.1" stroke-width="1.7" stroke="#2a2d4a"/><path d="M1060.8,924.1 L1087.8,912.1" stroke-width="1.7" stroke="#2a2d4a"/><rect x="326.5" y="957.2" width="12.3" height="21.9" fill="none" stroke="#4698da" stroke-width="2.6"/><path d="M326.5,980 L175.2,1007.4" stroke="#4698da" stroke-width="2.8"/><path d="M338.8,980 L555.2,1007.4" stroke="#4698da" stroke-width="2.8"/><rect x="175.4" y="1007.5" width="379.6" height="33.6" fill="#fff" stroke="#4698da" stroke-width="3.3"/><rect x="177.00" y="1011.2" width="40.0" height="26.6" fill="#4f9b6d" stroke="none"/><rect x="218.98" y="1011.2" width="40.0" height="26.6" fill="#4d9a6f" stroke="none"/><rect x="260.96" y="1011.2" width="40.0" height="26.6" fill="#4c9970" stroke="none"/><rect x="302.94" y="1011.2" width="40.0" height="26.6" fill="#4c9970" stroke="none"/><rect x="344.92" y="1011.2" width="40.0" height="26.6" fill="#4a9872" stroke="none"/><rect x="386.90" y="1011.2" width="40.0" height="26.6" fill="#489774" stroke="none"/><rect x="428.88" y="1011.2" width="40.0" height="26.6" fill="#489774" stroke="none"/><rect x="470.86" y="1011.2" width="40.0" height="26.6" fill="#479676" stroke="none"/><rect x="512.84" y="1011.2" width="40.0" height="26.6" fill="#459577" stroke="none"/><path d="M495.4,1043.2 L505.4,1060 L485.6,1060 Z" fill="#161b52" stroke="none"/><path d="M323.7,1629.5 L323.7,1644.6" stroke-width="1.4"/><path d="M600.4,1629.5 L600.4,1644.6" stroke-width="1.4"/><path d="M780.3,1629.5 L780.3,1644.6" stroke-width="1.4"/><path d="M854.6,1629.5 L854.6,1644.6" stroke-width="1.4"/></svg>
<div class="t" style="left:181.90px;top:1019.00px;font-size:12px;line-height:12px;letter-spacing:-0.256px;color:#d2f0e2;-webkit-text-stroke:0;">3.974</div>
<div class="t" style="left:223.88px;top:1019.00px;font-size:12px;line-height:12px;letter-spacing:-0.256px;color:#d2f0e2;-webkit-text-stroke:0;">3.975</div>
<div class="t" style="left:265.86px;top:1019.00px;font-size:12px;line-height:12px;letter-spacing:-0.256px;color:#d2f0e2;-webkit-text-stroke:0;">3.976</div>
<div class="t" style="left:307.84px;top:1019.00px;font-size:12px;line-height:12px;letter-spacing:-0.256px;color:#d2f0e2;-webkit-text-stroke:0;">3.976</div>
<div class="t" style="left:349.82px;top:1019.00px;font-size:12px;line-height:12px;letter-spacing:-0.256px;color:#d2f0e2;-webkit-text-stroke:0;">3.977</div>
<div class="t" style="left:391.80px;top:1019.00px;font-size:12px;line-height:12px;letter-spacing:-0.256px;color:#d2f0e2;-webkit-text-stroke:0;">3.978</div>
<div class="t" style="left:433.78px;top:1019.00px;font-size:12px;line-height:12px;letter-spacing:-0.256px;color:#d2f0e2;-webkit-text-stroke:0;">3.978</div>
<div class="t" style="left:475.76px;top:1019.00px;font-size:12px;line-height:12px;letter-spacing:-0.256px;color:#d2f0e2;-webkit-text-stroke:0;">3.979</div>
<div class="t" style="left:517.74px;top:1019.00px;font-size:12px;line-height:12px;letter-spacing:-0.256px;color:#d2f0e2;-webkit-text-stroke:0;">3.980</div>
<div class="t" style="left:143.80px;top:1020.00px;font-size:11.5px;line-height:11.5px;letter-spacing:0.008px;font-weight:bold;-webkit-text-stroke:0;">MIN.</div>
<div class="t" style="left:562.60px;top:1020.00px;font-size:11.5px;line-height:11.5px;letter-spacing:0.083px;font-weight:bold;-webkit-text-stroke:0;">MAX.</div>
<div class="t" style="left:434.50px;top:1064.00px;font-size:11.5px;line-height:11.5px;letter-spacing:0.261px;font-weight:bold;-webkit-text-stroke:0;">DURCHSCHNITTLICH</div>
<div class="t" style="left:46.30px;top:1634.70px;font-size:16px;line-height:16px;letter-spacing:0.606px;color:#1b1f4e;transform-origin:0 0;transform:rotate(-90deg) translate(0,-13.00px);">278C583C-790F-4CD0-9782-4036886C69A9</div>
<div class="j" style="top:1455.00px;">*Die hier ausgewiesenen Werte wurden nicht von AVILOO berechnet, sondern entsprechen den vom Batteriemanagementsystem (BMS) ausgelesenen Werten und wurden vom Hersteller</div>
<div class="t" style="left:74px;top:1472.00px;font-size:12px;line-height:12px;letter-spacing:0.305px;">berechnet. AVILOO übernimmt daher keine Haftung für deren Richtigkeit.</div>
<div class="j" style="top:1500.00px;"><b style="letter-spacing:-0.38px;color:#1b1f4e">HAFTUNGSAUSSCHLUSS:</b> Das Testergebnis beinhaltet den aktuell berechneten Gesundheitszustand (SoH) der Antriebsbatterie. Die Bestimmung basiert auf Daten, die vom Fahrzeug</div>
<div class="j" style="top:1516.00px;">bereitgestellt werden. Diese werden von den Algorithmen von AVILOO anhand statistischer und analytischer Modelle ausgewertet. Die Manipulation der Daten in der Steuereinheit führt zu</div>
<div class="j" style="top:1533.00px;">einem falschen Ergebnis. Der angegebene SoH weist bei mindestens 95 % der Referenzmessungen eine technisch bedingte Schwankungsbreite (Abweichung) von nicht mehr als 3 % auf.</div>
<div class="j" style="top:1549.00px;">Es ist zu beachten, dass diese Toleranz für die Bestimmung des SoH-Werts auf Zellebene gilt und nicht für den SoH-Wert der gesamten Batterie. Dies liegt daran, dass der Ladezustand</div>
<div class="j" style="top:1567.00px;">einzelner Zellen variieren kann, was sich negativ auf den aktuellen SoH-Wert der Batterie auswirken kann. Dies kann jedoch durch das Batteriemanagementsystem (BMS) oder während</div>
<div class="j" style="top:1583.00px;">einer Kalibrierung ausgeglichen werden. Das Ergebnis spiegelt den Zustand der Batterie zum Zeitpunkt des Tests wider. Daraus können keine Rückschlüsse auf den zukünftigen</div>
<div class="t" style="left:74px;top:1600.00px;font-size:12px;line-height:12px;letter-spacing:0.246px;">Gesundheitszustand der Batterie gezogen werden. Aussagen über mechanische Beschädigungen oder äußere Einflüsse sind nicht Teil dieser Diagnose.</div>
<div class="t" style="left:204.90px;top:1628.00px;font-size:16.5px;line-height:16.5px;letter-spacing:-0.406px;color:#4b9bd5;-webkit-text-stroke:0.5px #4b9bd5;">AVILOO GmbH</div>
<div class="t" style="left:335.10px;top:1628.00px;font-size:16.5px;line-height:16.5px;letter-spacing:0.027px;">IZ NÖ-Süd, Straße 16, Objekt 69/5</div>
<div class="t" style="left:611.50px;top:1628.00px;font-size:16.5px;line-height:16.5px;letter-spacing:0.123px;">2355 Wiener Neudorf</div>
<div class="t" style="left:792.40px;top:1628.00px;font-size:16.5px;line-height:16.5px;letter-spacing:-0.044px;">Austria</div>
<div class="t" style="left:865.30px;top:1628.00px;font-size:16.5px;line-height:16.5px;letter-spacing:-0.244px;">info@aviloo.com</div>
<div class="r" style="left:0.00px;top:1671.50px;width:1181.00px;height:6.00px;background:#000;"></div>
</body></html>
